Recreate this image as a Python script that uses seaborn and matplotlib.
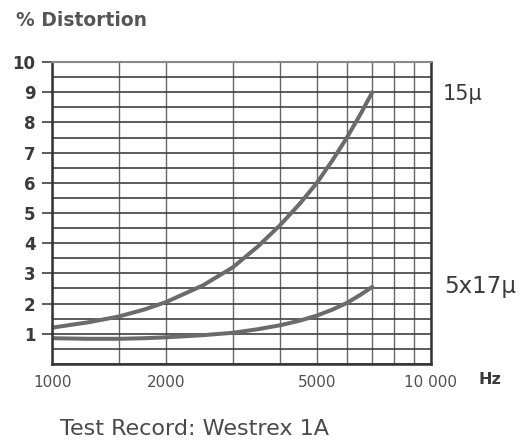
import matplotlib.pyplot as plt
import matplotlib.ticker as mticker
import pandas as pd
import seaborn as sns

# values
freq = [1000, 1250, 1500, 1750, 2000, 2500, 3000, 3500, 4000, 4500, 5000, 5500, 6000, 6500, 7000]
dist_15u = [1.2, 1.38, 1.57, 1.8, 2.05, 2.6, 3.2, 3.9, 4.6, 5.3, 6.0, 6.75, 7.5, 8.25, 9.0]
dist_5x17u = [0.85, 0.83, 0.83, 0.85, 0.88, 0.95, 1.03, 1.15, 1.28, 1.43, 1.6, 1.8, 2.02, 2.28, 2.55]

x_major = [1000, 2000, 5000, 10000]
x_labels = ["1000", "2000", "5000", "10 000"]
x_minor = [1500, 3000, 4000, 6000, 7000, 8000, 9000]
y_major = [1, 2, 3, 4, 5, 6, 7, 8, 9, 10]

df = pd.concat([
    pd.DataFrame({"Hz": freq, "dist": dist_15u, "stylus": "15μ"}),
    pd.DataFrame({"Hz": freq, "dist": dist_5x17u, "stylus": "5x17μ"}),
])

sns.set_style("white")
plt.rcParams['font.family'] = ['DejaVu Sans']

fig = plt.figure(figsize=(5.32, 4.47), dpi=100)
ax = fig.add_axes([0.098, 0.186, 0.712, 0.675])

gridc = '#404040'
ink = '#3a3a3a'

ax.set_xscale('log')
ax.set_xlim(1000, 10000)
ax.set_ylim(0, 10)

ax.xaxis.set_major_locator(mticker.FixedLocator(x_major))
ax.xaxis.set_major_formatter(mticker.FixedFormatter(x_labels))
ax.xaxis.set_minor_locator(mticker.FixedLocator(x_minor))
ax.xaxis.set_minor_formatter(mticker.NullFormatter())
ax.yaxis.set_major_locator(mticker.FixedLocator(y_major))
ax.yaxis.set_minor_locator(mticker.MultipleLocator(0.5))

ax.grid(which='both', axis='y', color=gridc, linewidth=1.2)
ax.grid(which='both', axis='x', color='#666666', linewidth=1.0)
ax.set_axisbelow(True)

sns.lineplot(data=df, x="Hz", y="dist", hue="stylus", palette=['#6b6b6b', '#6b6b6b'],
             linewidth=2.9, legend=False, ax=ax)

for side in ['left', 'bottom', 'right']:
    ax.spines[side].set_color('#333333')
    ax.spines[side].set_linewidth(1.8)
ax.spines['top'].set_color('#888888')
ax.spines['top'].set_linewidth(1.5)

ax.tick_params(axis='y', which='major', length=7, width=1.2, color=gridc, left=True,
               labelsize=12, labelcolor=ink, pad=5)
ax.tick_params(axis='y', which='minor', length=0)
ax.tick_params(axis='x', which='both', length=0, labelsize=11, labelcolor='#505050', pad=8)
for lab in ax.get_yticklabels():
    lab.set_fontweight('bold')

ax.set_xlabel('')
ax.set_ylabel('')

fig.text(0.03, 0.955, "% Distortion", fontsize=13.5, color='#555555', fontweight='bold', va='center')
fig.text(0.92, 0.152, "Hz", fontsize=11.5, color=ink, fontweight='bold', va='center', ha='center')
fig.text(0.832, 0.79, "15μ", fontsize=15, color=ink, va='center')
fig.text(0.834, 0.358, "5x17μ", fontsize=16.5, color=ink, va='center')
fig.text(0.365, 0.04, "Test Record: Westrex 1A", fontsize=16, color='#4a4a4a', va='center', ha='center')

plt.savefig("out.png", dpi=100)
